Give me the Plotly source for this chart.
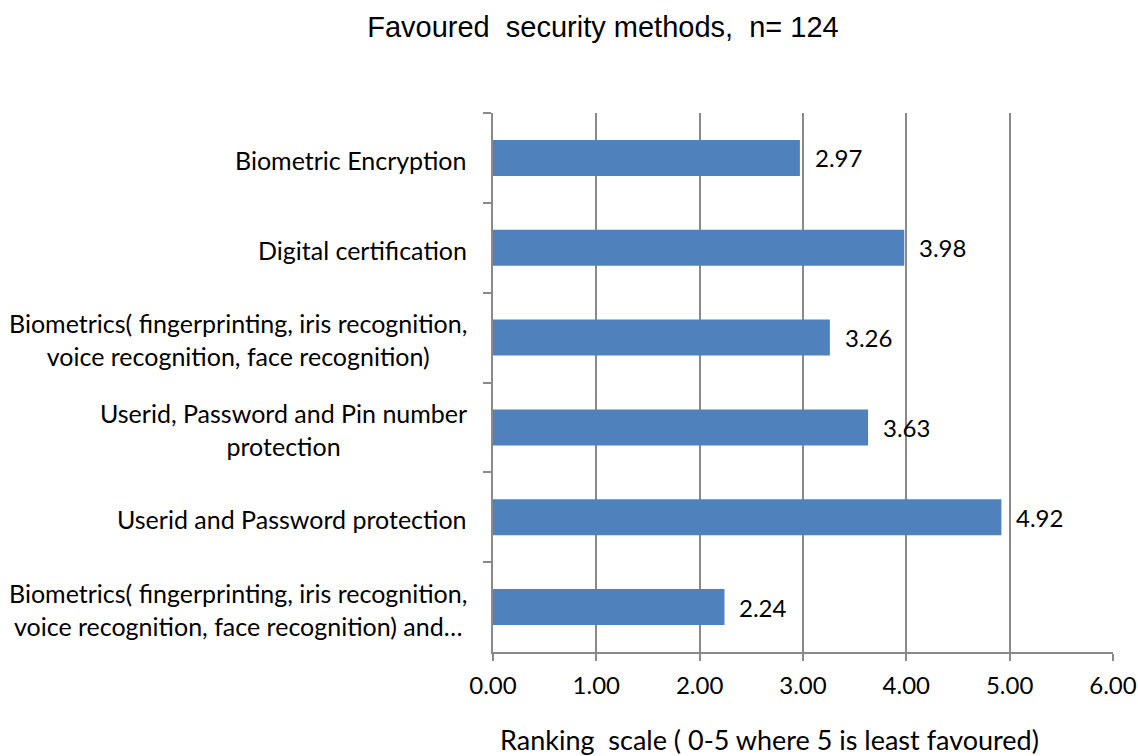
import plotly.graph_objects as go

# Security methods, listed top to bottom as shown on the chart
methods = [
    "Biometric Encryption",
    "Digital certification",
    "Biometrics( fingerprinting, iris recognition,<br>voice recognition, face recognition)",
    "Userid, Password and Pin number<br>protection",
    "Userid and Password protection",
    "Biometrics( fingerprinting, iris recognition,<br>voice recognition, face recognition) and…",
]
mean_rank = [2.97, 3.98, 3.26, 3.63, 4.92, 2.24]
x_ticks = [0, 1, 2, 3, 4, 5, 6]
x_tick_text = ["0.00", "1.00", "2.00", "3.00", "4.00", "5.00", "6.00"]

NB = "\u00a0"
title_text = f"Favoured {NB}security methods, {NB}n= 124"
axis_title = f"Ranking {NB}scale ( 0-5 where 5 is least favoured)"

LABEL_FONT = "Lato"
BAR_BLUE = "#4F81BD"
GRID_GREY = "#8a8a8a"

fig = go.Figure()
fig.add_trace(go.Bar(
    x=mean_rank,
    y=methods,
    orientation="h",
    marker=dict(color=BAR_BLUE, line=dict(width=0)),
    hoverinfo="skip",
))

annotations = []
# value labels to the right of each bar
for m, v in zip(methods, mean_rank):
    annotations.append(dict(
        x=v, y=m, xref="x", yref="y", text=f"{v:.2f}",
        xanchor="left", yanchor="middle", xshift=13, showarrow=False,
        font=dict(family=LABEL_FONT, size=24, color="#000"),
    ))
# category labels, each block centred line by line
for m in methods:
    annotations.append(dict(
        x=0, y=m, xref="paper", yref="y", text=m,
        xanchor="right", yanchor="middle", xshift=-24, yshift=-2,
        align="center", showarrow=False,
        font=dict(family=LABEL_FONT, size=25, color="#000"),
    ))
# horizontal axis title
annotations.append(dict(
    x=(769 - 493) / 620, y=(652 - 739) / 539, xref="paper", yref="paper",
    text=axis_title, xanchor="center", yanchor="middle", showarrow=False,
    font=dict(family=LABEL_FONT, size=27, color="#000"),
))

fig.update_layout(
    width=1138, height=756,
    margin=dict(l=493, r=25, t=113, b=104),
    paper_bgcolor="white", plot_bgcolor="white",
    showlegend=False,
    bargap=0.6,
    title=dict(
        text=title_text, x=603 / 1138, xanchor="center",
        y=1 - 27 / 756, yanchor="middle",
        font=dict(family="Liberation Sans", size=29, color="#000"),
    ),
    xaxis=dict(
        range=[0, 6], tickvals=x_ticks, ticktext=x_tick_text,
        showgrid=True, gridcolor=GRID_GREY, gridwidth=1.5,
        zeroline=False, showline=True, linecolor=GRID_GREY, linewidth=1.5,
        ticks="outside", ticklen=7, tickwidth=1.5, tickcolor=GRID_GREY,
        ticklabelstandoff=4,
        tickfont=dict(family=LABEL_FONT, size=24, color="#000"),
        fixedrange=True, automargin=False,
    ),
    yaxis=dict(
        autorange="reversed", showticklabels=False,
        tickson="boundaries", ticks="outside", ticklen=8, tickwidth=1.5,
        tickcolor=GRID_GREY, showline=True, linecolor=GRID_GREY, linewidth=1.5,
        showgrid=False, zeroline=False, fixedrange=True, automargin=False,
    ),
    annotations=annotations,
)

# page without body margin so the figure sits at the window origin
fig.write_html(
    "out.html",
    post_script="document.body.style.margin='0';document.body.style.overflow='hidden';",
)
